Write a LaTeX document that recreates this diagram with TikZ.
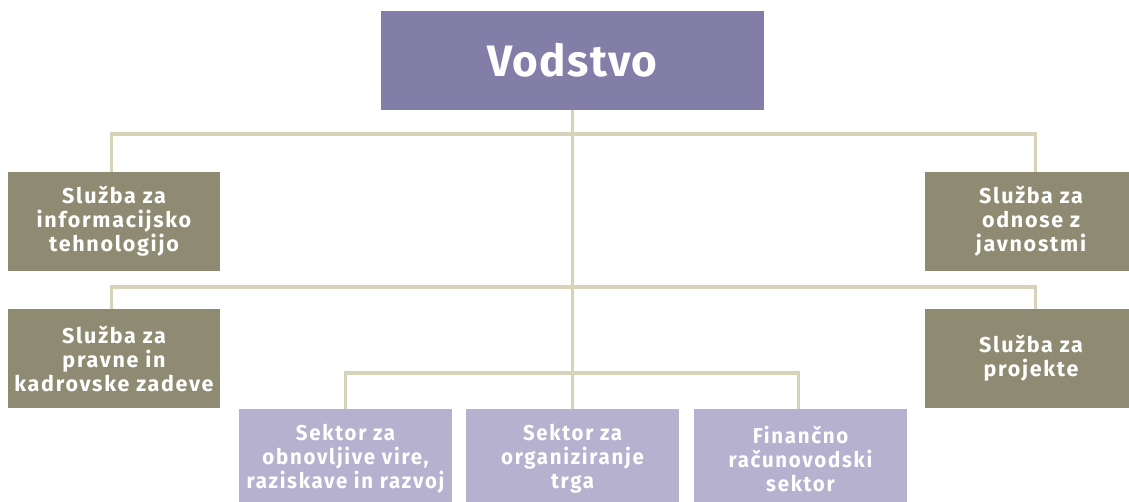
\documentclass[tikz,border=0pt]{standalone}
\usepackage{fontspec}
\setmainfont{Fira Sans}
\newfontfamily\boxfont[LetterSpace=8]{Fira Sans}
\newfontfamily\condfont[LetterSpace=8,FakeStretch=0.95]{Fira Sans}
\newfontfamily\headfont[LetterSpace=3]{Fira Sans}
\definecolor{headc}{HTML}{837EA8}
\definecolor{olivec}{HTML}{8E8B72}
\definecolor{lilac}{HTML}{B5B1CF}
\definecolor{linec}{HTML}{D7D3B9}
\begin{document}
\begin{tikzpicture}[x=1pt,y=-1pt,
  box/.style={rectangle,inner sep=0pt,align=center,text=white,font=\boxfont\fontsize{21.5}{24}\selectfont\bfseries},
  svc/.style={box,fill=olivec,minimum width=212pt,minimum height=99pt},
  sect/.style={box,fill=lilac,minimum width=213pt,minimum height=99pt,font=\condfont\fontsize{21.5}{24}\selectfont\bfseries},
  head/.style={box,fill=headc,minimum width=383pt,minimum height=99pt,font=\headfont\fontsize{44}{50}\selectfont\bfseries},
  conn/.style={draw=linec,line width=3.5pt}]
\useasboundingbox (0,0) rectangle (1129,501);
\clip (0,0) rectangle (1129,501);
\fill[white] (0,0) rectangle (1129,501);
\coordinate (top) at (573,134);
\coordinate (mid) at (573,287);
\coordinate (low) at (573,373);
\node[head] (v) at (572.5,60.5) {Vodstvo};
\node[svc] (l1) at (114,221.5) {Služba za\\informacijsko\\tehnologijo};
\node[svc] (r1) at (1031,221.5) {Služba za\\odnose z\\javnostmi};
\node[svc] (l2) at (114,358.5) {Služba za\\pravne in\\kadrovske zadeve};
\node[svc] (r2) at (1031,358.5) {Služba za\\projekte};
\node[sect] (b1) at (345.5,458.5) {Sektor za\\obnovljive vire,\\raziskave in razvoj};
\node[sect] (b2) at (572.5,458.5) {Sektor za\\organiziranje\\trga};
\node[sect] (b3) at (800.5,458.5) {Finančno\\računovodski\\sektor};
\draw[conn] (v.south) -- (b2.north);
\draw[conn] ([xshift=-2.5pt]l1.north) |- (top) -| ([xshift=4.5pt]r1.north);
\draw[conn] ([xshift=-2.5pt]l2.north) |- (mid) -| ([xshift=4.5pt]r2.north);
\draw[conn] (b1.north) |- (low) -| ([xshift=-2pt]b3.north);
\end{tikzpicture}
\end{document}
